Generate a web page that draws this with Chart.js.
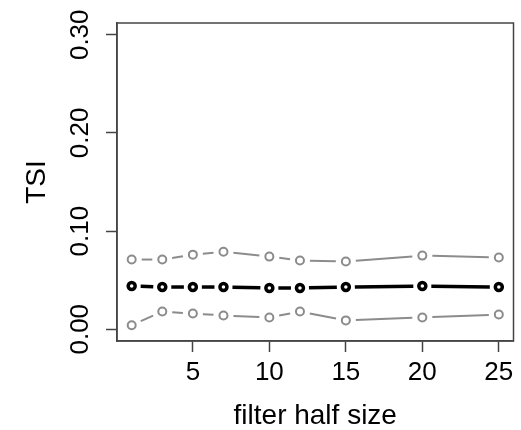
<!DOCTYPE html>
<html>
<head>
<meta charset="utf-8">
<script src="https://cdn.jsdelivr.net/npm/chart.js@4"></script>
<style>
  html, body { margin: 0; padding: 0; background: #fff; }
  #wrap { width: 521px; height: 430px; }
</style>
</head>
<body>
<div id="wrap"><canvas id="tsiChart"></canvas></div>
<script>
// filter half sizes on the x axis
const halfSizes = [1, 3, 5, 7, 10, 12, 15, 20, 25]
// TSI: upper band, mean, lower band
const tsiUpper = [0.071, 0.071, 0.076, 0.079, 0.074, 0.070, 0.069, 0.075, 0.073]
const tsiMean  = [0.044, 0.043, 0.043, 0.043, 0.042, 0.042, 0.043, 0.044, 0.043]
const tsiLower = [0.004, 0.018, 0.016, 0.014, 0.012, 0.018, 0.009, 0.012, 0.015]

const xTicks = [5, 10, 15, 20, 25]
const yTicks = [0, 0.05, 0.10, 0.15, 0.20, 0.25, 0.30]
const yTickLabels = ['0.00', '', '0.10', '', '0.20', '', '0.30']

const grey = '#8c8c8c'
const family = '"Liberation Sans", Arial, sans-serif'
const tickFont = { family: family, size: 26 }
const titleFont = { family: family, size: 28 }

const toPoints = (ys) => halfSizes.map((x, i) => ({ x: x, y: ys[i] }))

function series(ys, color, width, radius, gap) {
  return {
    data: toPoints(ys),
    showLine: false,
    borderColor: color,
    borderWidth: width,
    gap: gap,
    pointRadius: radius,
    pointBorderWidth: width,
    pointBorderColor: color,
    pointBackgroundColor: 'rgba(0,0,0,0)'
  }
}

// R's type="b": segments between the points, stopped short of each circle
const brokenLines = {
  id: 'brokenLines',
  beforeDatasetsDraw(chart) {
    const c = chart.ctx
    chart.data.datasets.forEach((ds, i) => {
      const pts = chart.getDatasetMeta(i).data
      c.save()
      c.strokeStyle = ds.borderColor
      c.lineWidth = ds.borderWidth
      c.lineCap = 'butt'
      for (let k = 0; k < pts.length - 1; k++) {
        const a = pts[k], b = pts[k + 1]
        const dx = b.x - a.x, dy = b.y - a.y
        const d = Math.hypot(dx, dy)
        if (d <= 2 * ds.gap) continue
        const ux = dx / d, uy = dy / d
        c.beginPath()
        c.moveTo(a.x + ux * ds.gap, a.y + uy * ds.gap)
        c.lineTo(b.x - ux * ds.gap, b.y - uy * ds.gap)
        c.stroke()
      }
      c.restore()
    })
  }
}

// closed box round the plot region, as in the reference
const plotBox = {
  id: 'plotBox',
  afterDraw(chart) {
    const a = chart.chartArea
    const c = chart.ctx
    c.save()
    c.strokeStyle = '#444'
    c.lineWidth = 1.5
    c.strokeRect(a.left, a.top, a.right - a.left, a.bottom - a.top)
    c.restore()
  }
}

const ctx = document.getElementById('tsiChart')

new Chart(ctx, {
  type: 'scatter',
  data: {
    datasets: [
      series(tsiUpper, grey, 2, 4, 10),
      series(tsiLower, grey, 2, 4, 10),
      series(tsiMean, '#000', 3.5, 3.5, 9)
    ]
  },
  options: {
    responsive: true,
    maintainAspectRatio: false,
    animation: false,
    layout: { padding: { top: 23, right: 7, left: 0, bottom: 0 } },
    plugins: {
      legend: { display: false },
      tooltip: { enabled: false }
    },
    scales: {
      x: {
        type: 'linear',
        min: 0.04,
        max: 25.96,
        afterBuildTicks: (s) => { s.ticks = xTicks.map(v => ({ value: v })) },
        afterFit: (s) => { s.height = 89 },
        border: { display: true, color: '#444', width: 1.5 },
        grid: { drawOnChartArea: false, drawTicks: true, tickLength: 11, tickColor: '#444', tickWidth: 1.5 },
        ticks: { color: '#000', font: tickFont, padding: 5, maxRotation: 0, callback: (v) => String(v) },
        title: { display: true, text: 'filter half size', color: '#000', font: titleFont, padding: { top: 0, bottom: -3 } }
      },
      y: {
        type: 'linear',
        min: -0.012,
        max: 0.312,
        afterBuildTicks: (s) => { s.ticks = yTicks.map(v => ({ value: v })) },
        afterFit: (s) => { s.width = 117 },
        border: { display: true, color: '#444', width: 1.5 },
        grid: { drawOnChartArea: false, drawTicks: true, tickLength: 11, tickColor: '#444', tickWidth: 1.5 },
        ticks: {
          color: '#000',
          font: tickFont,
          padding: 0,
          minRotation: 90,
          maxRotation: 90,
          crossAlign: 'center',
          callback: (v, i) => yTickLabels[i]
        },
        title: { display: true, text: 'TSI', color: '#000', font: titleFont, padding: { top: 20, bottom: 0 } }
      }
    }
  },
  plugins: [brokenLines, plotBox]
})
</script>
</body>
</html>
